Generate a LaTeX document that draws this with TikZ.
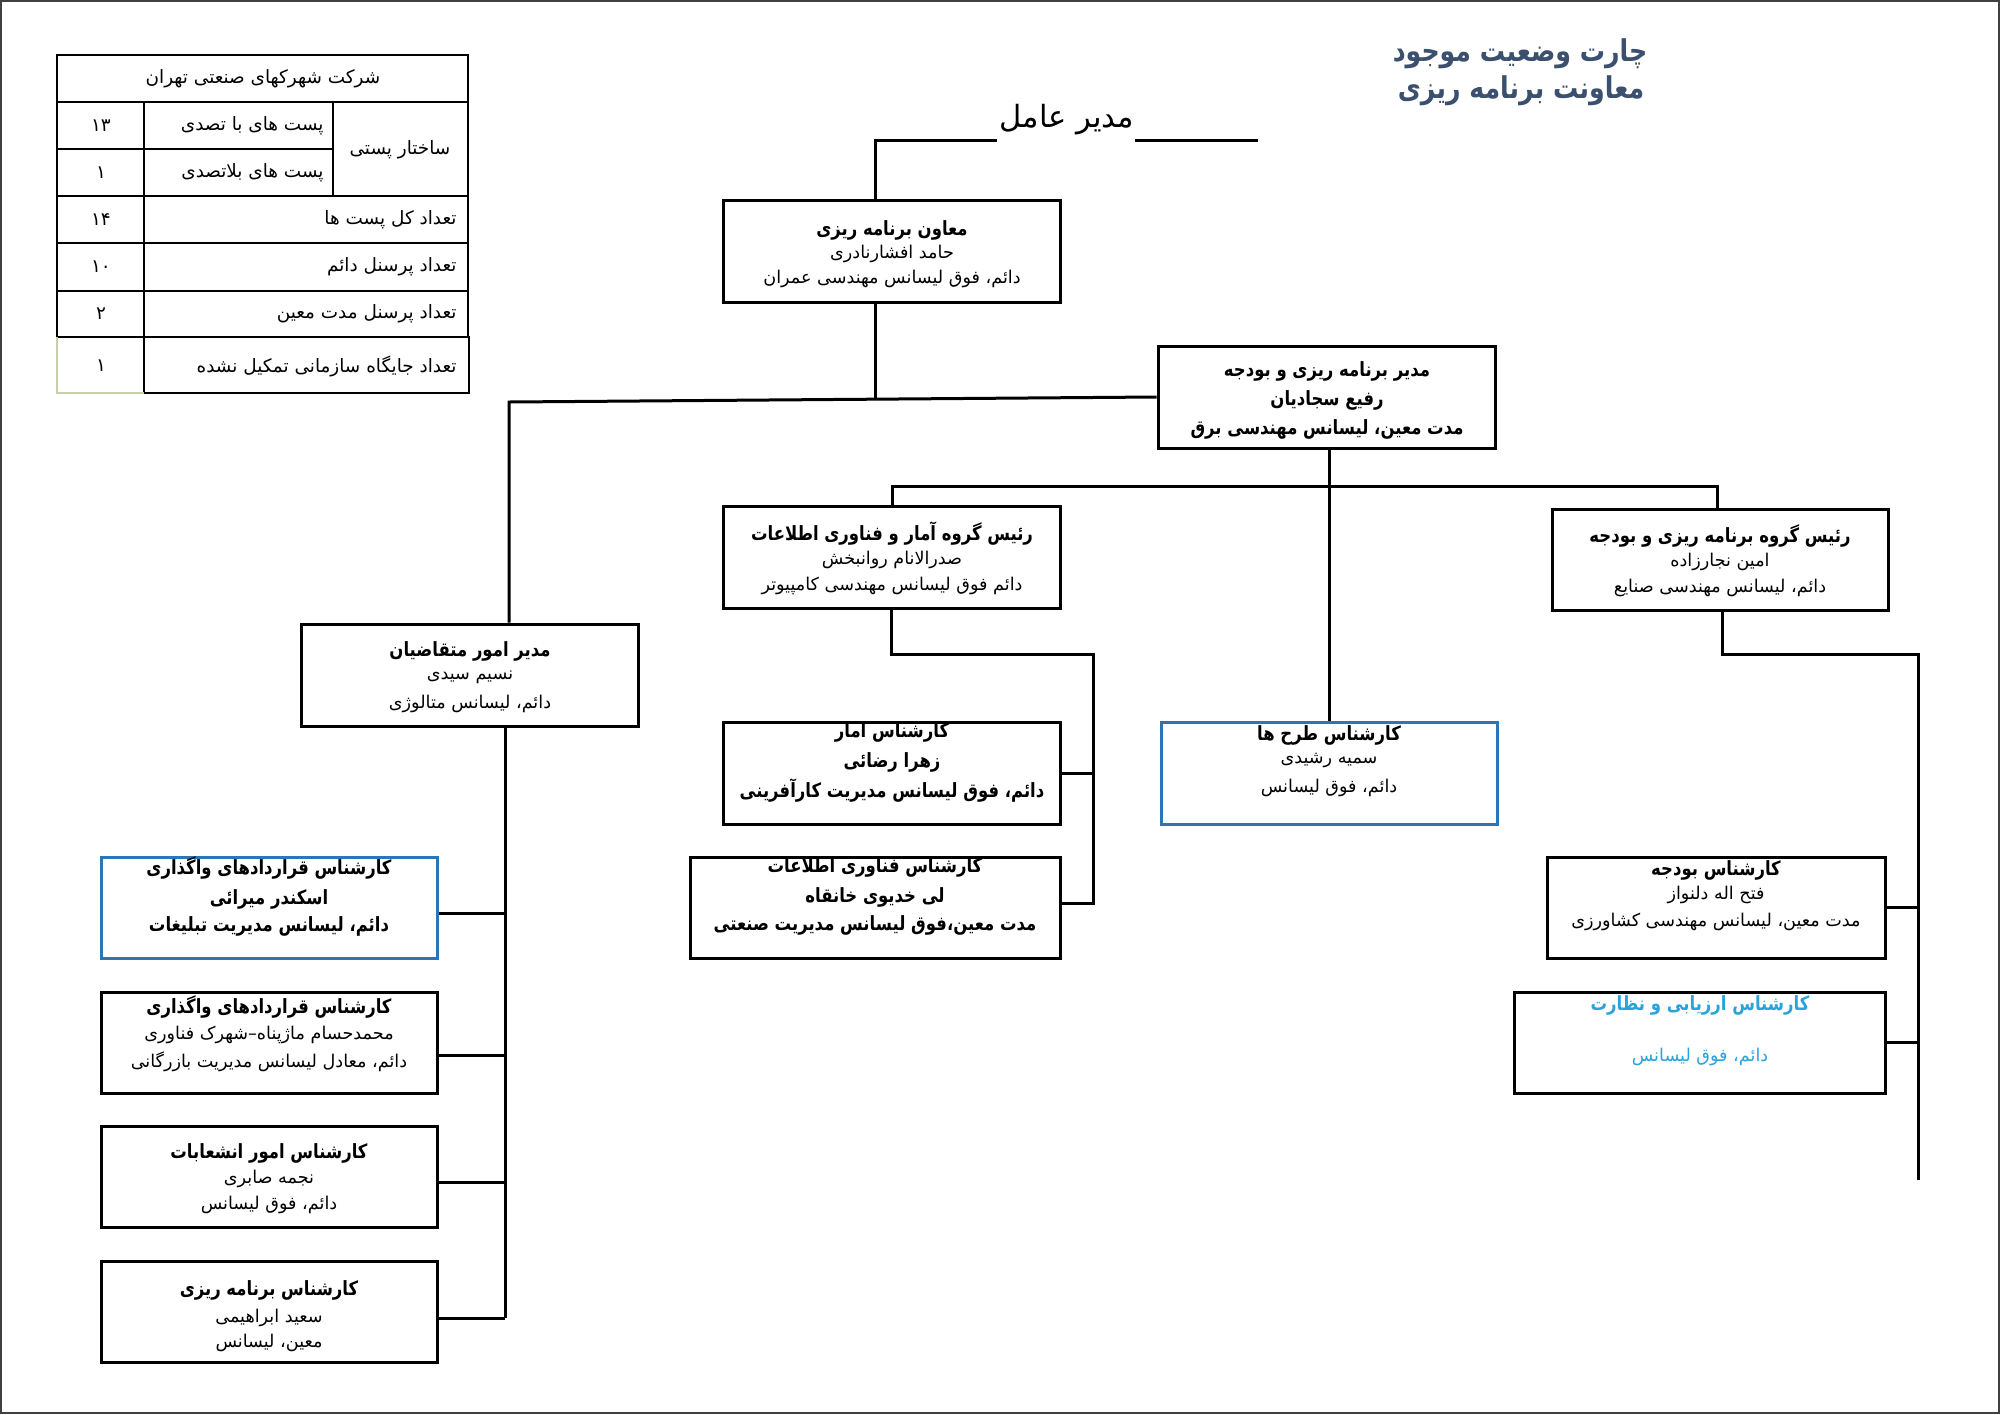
\documentclass[tikz,border=0pt]{standalone}
\usepackage{fontspec}
\TeXXeTstate=1
\newfontfamily\fa[Script=Arabic]{DejaVu Sans}
\newfontfamily\fab[Script=Arabic,FakeStretch=0.84]{DejaVu Sans Bold}
\definecolor{boxblue}{RGB}{46,117,182}
\definecolor{txtcyan}{RGB}{41,163,220}
\definecolor{ttlblue}{RGB}{59,79,110}
\definecolor{cellgreen}{RGB}{195,210,170}
\newcommand\bx[6]{\node[#6, minimum width={(#4-#2)*0.5pt}, minimum height={(#5-#3)*0.5pt}] (#1) at ({(#2+#4)/2},{(#3+#5)/2}) {};}
\newcommand\tl[5]{\node[#4] (#1) at (#2,#3) {#5};}
\begin{document}
\begin{tikzpicture}[x=0.5pt,y=-0.5pt,
  box/.style={draw, line width=1.5pt, inner sep=0pt},
  bluebox/.style={box, draw=boxblue},
  conn/.style={line width=1.5pt},
  tb/.style={font=\fab\fontsize{9.8}{11}\selectfont, inner sep=0pt},
  tr/.style={font=\fa\fontsize{8.8}{10.5}\selectfont, inner sep=0pt},
  tab/.style={font=\fa\fontsize{9.2}{11}\selectfont, inner sep=0pt},
  tabr/.style={tab, anchor=east},
  tline/.style={line width=1pt},
  head/.style={font=\fab\fontsize{15}{18}\selectfont, text=ttlblue, inner sep=0pt},
  ceo/.style={font=\fa\fontsize{15.3}{18}\selectfont, inner sep=0pt}
]
\fill[white] (0,0) rectangle (2000,1414);
\useasboundingbox (0,0) rectangle (2000,1414);
\draw[line width=0.75pt, black!75] (1,1) rectangle (1999,1413);

% ---------- table ----------
\draw[tline] (57,55) rectangle (468,337);
\draw[tline] (57,102) -- (468,102);
\draw[tline] (144,149) -- (333,149);
\draw[tline] (57,149) -- (144,149);
\draw[tline] (57,196) -- (468,196);
\draw[tline] (57,243) -- (468,243);
\draw[tline] (57,291) -- (468,291);
\draw[tline] (144,102) -- (144,337);
\draw[tline] (333,102) -- (333,196);
\draw[tline] (144,337) rectangle (469,393);
\draw[tline, cellgreen] (57,337) -- (57,393) -- (144,393);
\node[tab] (t0) at (263,79) {\beginR شرکت شهرکهای صنعتی تهران\endR};
\node[tabr] (t1) at (324,126) {\beginR پست های با تصدی\endR};
\node[tabr] (t2) at (324,173) {\beginR پست های بلاتصدی\endR};
\node[tab] (t3) at (400,150) {\beginR ساختار پستی\endR};
\node[tabr] (t4) at (457,220) {\beginR تعداد کل پست ها\endR};
\node[tabr] (t5) at (457,267) {\beginR تعداد پرسنل دائم\endR};
\node[tabr] (t6) at (457,314) {\beginR تعداد پرسنل مدت معین\endR};
\node[tabr] (t7) at (457,366) {\beginR تعداد جایگاه سازمانی تمکیل نشده\endR};
\node[tab] (n1) at (101,126) {۱۳};
\node[tab] (n2) at (101,173) {۱};
\node[tab] (n3) at (101,220) {۱۴};
\node[tab] (n4) at (101,267) {۱۰};
\node[tab] (n5) at (101,314) {۲};
\node[tab] (n6) at (101,366) {۱};

% ---------- heading ----------
\node[head] (h1t) at (1520,54) {\beginR چارت وضعیت موجود\endR};
\node[head] (h2t) at (1521,91) {\beginR معاونت برنامه ریزی\endR};
\node[ceo] (ceotxt) at (1067,120) {\beginR مدیر عامل\endR};

% ---------- boxes ----------
\bx{b1}{723}{200}{1060}{302}{box}
\bx{b2}{1158}{346}{1495}{448}{box}
\bx{b3}{723}{506}{1060}{608}{box}
\bx{b4}{1552}{509}{1888}{610}{box}
\bx{b5}{301}{624}{638}{726}{box}
\bx{b6}{723}{722}{1060}{824}{box}
\bx{b7}{690}{857}{1060}{958}{box}
\bx{b10}{1161}{722}{1497}{824}{bluebox}
\bx{b8}{1547}{857}{1885}{958}{box}
\bx{b9}{1514}{992}{1885}{1093}{box}
\bx{l1}{101}{857}{437}{958}{bluebox}
\bx{l2}{101}{992}{437}{1093}{box}
\bx{l3}{101}{1126}{437}{1227}{box}
\bx{l4}{101}{1261}{437}{1362}{box}

% ---------- box texts ----------
\tl{b1a}{892}{230}{tb}{\beginR معاون برنامه ریزی\endR}
\tl{b1b}{892}{254}{tr}{\beginR حامد افشارنادری\endR}
\tl{b1c}{892}{279}{tr}{\beginR دائم، فوق لیسانس مهندسی عمران\endR}

\tl{b2a}{1327}{371}{tb}{\beginR مدیر برنامه ریزی و بودجه\endR}
\tl{b2b}{1327}{400}{tb}{\beginR رفیع سجادیان\endR}
\tl{b2c}{1327}{429}{tb}{\beginR مدت معین، لیسانس مهندسی برق\endR}

\tl{b3a}{892}{534}{tb}{\beginR رئیس گروه آمار و فناوری اطلاعات\endR}
\tl{b3b}{892}{560}{tr}{\beginR صدرالانام روانبخش\endR}
\tl{b3c}{892}{586}{tr}{\beginR دائم فوق لیسانس مهندسی کامپیوتر\endR}

\tl{b4a}{1720}{536}{tb}{\beginR رئیس گروه برنامه ریزی و بودجه\endR}
\tl{b4b}{1720}{562}{tr}{\beginR امین نجارزاده\endR}
\tl{b4c}{1720}{588}{tr}{\beginR دائم، لیسانس مهندسی صنایع\endR}

\tl{b5a}{470}{651}{tb}{\beginR مدیر امور متقاضیان\endR}
\tl{b5b}{470}{677}{tr}{\beginR نسیم سیدی\endR}
\tl{b5c}{470}{704}{tr}{\beginR دائم، لیسانس متالوژی\endR}

\tl{b6a}{892}{732}{tb}{\beginR کارشناس امار\endR}
\tl{b6b}{892}{762}{tb}{\beginR زهرا رضائی\endR}
\tl{b6c}{892}{791}{tb}{\beginR دائم، فوق لیسانس مدیریت کارآفرینی\endR}

\tl{b7a}{875}{867}{tb}{\beginR کارشناس فناوری اطلاعات\endR}
\tl{b7b}{875}{897}{tb}{\beginR لی خدیوی خانقاه\endR}
\tl{b7c}{875}{925}{tb}{\beginR مدت معین،فوق لیسانس مدیریت صنعتی\endR}

\tl{b10a}{1329}{735}{tb}{\beginR کارشناس طرح ها\endR}
\tl{b10b}{1329}{760}{tr}{\beginR سمیه رشیدی\endR}
\tl{b10c}{1329}{788}{tr}{\beginR دائم، فوق لیسانس\endR}

\tl{b8a}{1716}{870}{tb}{\beginR کارشناس بودجه\endR}
\tl{b8b}{1716}{895}{tr}{\beginR فتح اله دلنواز\endR}
\tl{b8c}{1716}{922}{tr}{\beginR مدت معین، لیسانس مهندسی کشاورزی\endR}

\tl{b9a}{1700}{1005}{tb, text=txtcyan}{\beginR کارشناس ارزیابی و نظارت\endR}
\tl{b9c}{1700}{1057}{tr, text=txtcyan}{\beginR دائم، فوق لیسانس\endR}

\tl{l1a}{269}{868}{tb}{\beginR کارشناس قراردادهای واگذاری\endR}
\tl{l1b}{269}{899}{tb}{\beginR اسکندر میرائی\endR}
\tl{l1c}{269}{926}{tb}{\beginR دائم، لیسانس مدیریت تبلیغات\endR}

\tl{l2a}{269}{1007}{tb}{\beginR کارشناس قراردادهای واگذاری\endR}
\tl{l2b}{269}{1035}{tr}{\beginR محمدحسام ماژپناه–شهرک فناوری\endR}
\tl{l2c}{269}{1062}{tr}{\beginR دائم، معادل لیسانس مدیریت بازرگانی\endR}

\tl{l3a}{269}{1153}{tb}{\beginR کارشناس امور انشعابات\endR}
\tl{l3b}{269}{1179}{tr}{\beginR نجمه صابری\endR}
\tl{l3c}{269}{1205}{tr}{\beginR دائم، فوق لیسانس\endR}

\tl{l4a}{269}{1290}{tb}{\beginR کارشناس برنامه ریزی\endR}
\tl{l4b}{269}{1318}{tr}{\beginR سعید ابراهیمی\endR}
\tl{l4c}{269}{1343}{tr}{\beginR معین، لیسانس\endR}

% ---------- connectors ----------
\coordinate (ceoA) at (997,140);
\coordinate (ceoB) at (875,140);
\coordinate (ceoC) at (1135,140);
\coordinate (ceoD) at (1258,140);
\draw[conn] (ceoA) -- (ceoB) -- (ceoB |- b1.north);
\draw[conn] (ceoC) -- (ceoD);
\coordinate (j1) at (875,399);
\draw[conn] (b1.south -| j1) -- (j1);
\coordinate (jL) at (509,402);
\draw[conn] (b2.west) -- (jL) -- (jL |- b5.north);
\draw[conn] (b2.south -| b10.north) -- (b10.north);
\coordinate (hh1) at (892,486);
\coordinate (hh2) at (1717,486);
\draw[conn] (hh1 |- b3.north) -- (hh1) -- (hh2) -- (hh2 |- b4.north);
\coordinate (r1) at (1093,654);
\coordinate (r2) at (1093,903);
\draw[conn] (b3.south) -- (b3.south |- r1) -- (r1) -- (r2) -- (r2 -| b7.east);
\draw[conn] (b6.east) -- (b6.east -| r1);
\coordinate (s1) at (1722,654);
\coordinate (s2) at (1918,654);
\coordinate (s3) at (1918,1180);
\draw[conn] (s1 |- b4.south) -- (s1) -- (s2) -- (s3);
\draw[conn] (b8.east) -- (b8.east -| s2);
\draw[conn] (b9.east) -- (b9.east -| s2);
\coordinate (v0) at (505,1318);
\coordinate (v1) at (505,913);
\coordinate (v2) at (505,1055);
\coordinate (v3) at (505,1182);
\draw[conn] (b5.south -| v0) -- (v0);
\draw[conn] (v1) -- (v1 -| l1.east);
\draw[conn] (v2) -- (v2 -| l2.east);
\draw[conn] (v3) -- (v3 -| l3.east);
\draw[conn] (v0) -- (v0 -| l4.east);
\end{tikzpicture}
\end{document}
